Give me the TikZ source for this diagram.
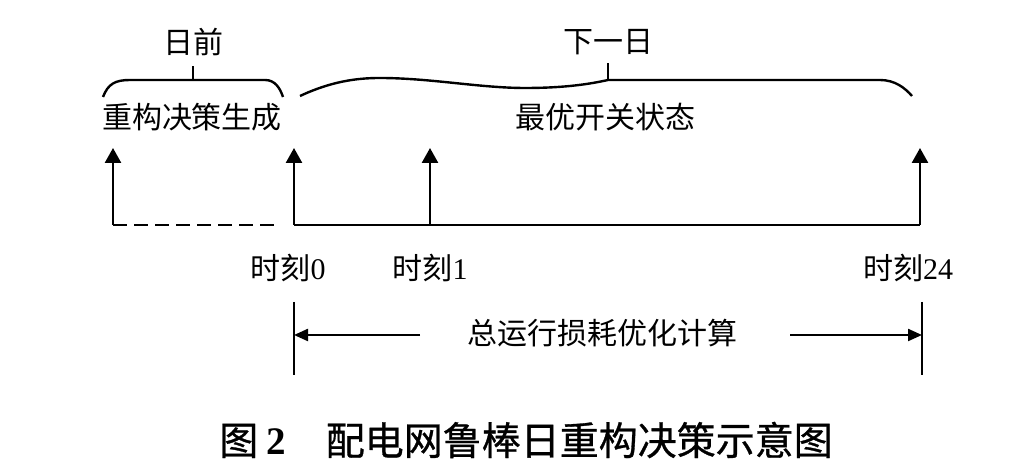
\documentclass[tikz,border=0pt]{standalone}
\usepackage{fontspec}
\setmainfont{Liberation Serif}
\newfontfamily\cjk{Noto Sans CJK SC}
\newfontfamily\cjkcap{Noto Sans CJK SC}[FakeBold=0.8]
\usetikzlibrary{arrows.meta}
\tikzset{
  lbl/.style={inner sep=0pt,font=\fontsize{15}{18}\selectfont\cjk},
  num/.style={inner sep=0pt,font=\fontsize{15}{18}\selectfont},
  tick/.style={line width=1.3pt,-{Triangle[width=8pt,length=7.5pt]}},
  brace/.style={line width=1.2pt},
  span/.style={line width=1.1pt,-{Triangle[width=6pt,length=7pt]}}
}
\begin{document}
\begin{tikzpicture}[x=0.5pt,y=-0.5pt]
  \useasboundingbox (0,0) rectangle (1019,474);
  \node[lbl] (before) at (193,42) {日前};
  \node[lbl] (nextday) at (608,42) {下一日};
  \node[lbl] (decide) at (192,117) {重构决策生成};
  \node[lbl] (state) at (605,117) {最优开关状态};
  \draw[brace] (103,97) .. controls (108,84) and (115,80) .. (130,80) -- (265,80)
    .. controls (275,80) and (280,88) .. (283,97);
  \draw[brace] (193,80) -- (193,66);
  \draw[brace] (300,96) .. controls (330,82) and (355,78) .. (380,78)
    .. controls (430,78) and (480,88) .. (525,88)
    .. controls (565,88) and (590,84) .. (608,80) -- (880,80)
    .. controls (895,80) and (905,88) .. (912,96);
  \draw[brace] (608,80) -- (608,63);
  \foreach \x/\n in {113/s,294/t0,430/t1,920/t24} {
    \coordinate (\n) at (\x,225);
    \coordinate (\n top) at (\x,148);
    \draw[tick] (\n) -- (\n top);
  }
  \draw[line width=1.4pt,dash pattern=on 7pt off 3.5pt] (s) -- (276,225);
  \draw[line width=1.3pt] (t0) -- (t24);
  \node[num] (lab0) at (288,268) {{\cjk 时刻}0};
  \node[num] (lab1) at (430,268) {{\cjk 时刻}1};
  \node[num] (lab24) at (908,268) {{\cjk 时刻}24};
  \coordinate (barl) at (294,302);
  \coordinate (barr) at (922,302);
  \draw[line width=1.2pt] (barl) -- ++(0,73);
  \draw[line width=1.2pt] (barr) -- ++(0,73);
  \node[lbl] (calc) at (602,333) {总运行损耗优化计算};
  \coordinate (cl) at (420,335);
  \coordinate (cr) at (790,335);
  \draw[span] (cl) -- (294,335);
  \draw[span] (cr) -- (922,335);
  \node[inner sep=0pt,font=\fontsize{19.5}{23}\selectfont] (cap) at (526,440)
    {{\cjkcap 图}\hspace{4pt}\textbf{2}\hspace{20pt}{\cjkcap 配电网鲁棒日重构决策示意图}};
\end{tikzpicture}
\end{document}
